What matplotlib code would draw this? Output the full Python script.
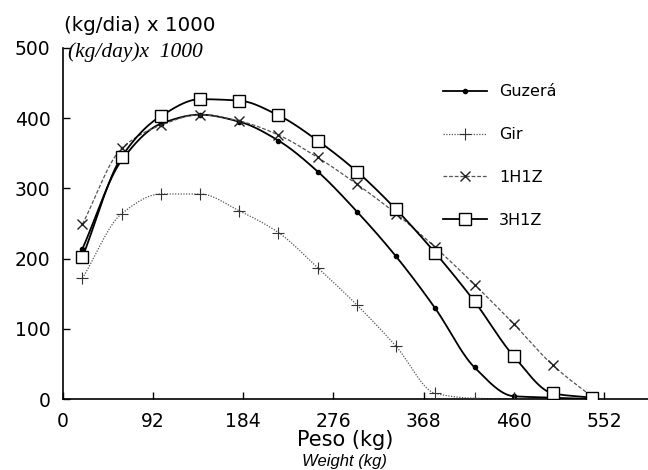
import numpy as np
import matplotlib
matplotlib.use('Agg')
import matplotlib.pyplot as plt

# weight (kg) at which the gain was recorded
peso = [20, 60, 100, 140, 180, 220, 260, 300, 340, 380, 420, 460, 500, 540]

# daily gain (kg/day) x 1000 per genetic group
guzera = [214, 340, 392, 405, 395, 368, 324, 267, 203, 129, 45, 4, 2, 0]
gir = [172, 264, 292, 292, 268, 237, 187, 134, 75, 8, 1, 0, 0, 0]
h1z1 = [249, 357, 390, 405, 396, 376, 344, 306, 264, 216, 163, 107, 48, 3]
h3z1 = [202, 345, 403, 427, 425, 404, 368, 324, 270, 208, 139, 61, 8, 2]

xticks = [0, 92, 184, 276, 368, 460, 552]
yticks = [0, 100, 200, 300, 400, 500]


def smooth(x, y, n=400):
    # monotone cubic (pchip-style) curve through the points, for drawing only
    x = np.asarray(x, float)
    y = np.asarray(y, float)
    h = np.diff(x)
    d = np.diff(y) / h
    m = np.zeros_like(y)
    for k in range(1, len(x) - 1):
        if d[k - 1] * d[k] > 0:
            w1 = 2 * h[k] + h[k - 1]
            w2 = h[k] + 2 * h[k - 1]
            m[k] = (w1 + w2) / (w1 / d[k - 1] + w2 / d[k])
    m[0] = d[0]
    m[-1] = d[-1]
    xs = np.linspace(x[0], x[-1], n)
    i = np.clip(np.searchsorted(x, xs) - 1, 0, len(x) - 2)
    t = (xs - x[i]) / h[i]
    h00 = 2 * t**3 - 3 * t**2 + 1
    h10 = t**3 - 2 * t**2 + t
    h01 = -2 * t**3 + 3 * t**2
    h11 = t**3 - t**2
    ys = h00 * y[i] + h10 * h[i] * m[i] + h01 * y[i + 1] + h11 * h[i] * m[i + 1]
    return xs, np.maximum(ys, 0)


plt.rcParams['font.family'] = ['DejaVu Sans']

fig = plt.figure(figsize=(6.48, 4.70), dpi=100)
ax = fig.add_axes([0.097, 0.151, 0.903, 0.747])

series = [
    ('Guzerá', guzera, dict(color='black', lw=1.3, ls='-'), dict(marker='o', ms=3, mfc='black', mec='black')),
    ('Gir', gir, dict(color='#555555', lw=0.9, ls=(0, (1, 1.2))), dict(marker='+', ms=9, mew=0.8, mec='#333333')),
    ('1H1Z', h1z1, dict(color='#555555', lw=0.9, ls=(0, (3, 1.5))), dict(marker='x', ms=7, mew=1.0, mec='#222222')),
    ('3H1Z', h3z1, dict(color='black', lw=1.3, ls='-'), dict(marker='s', ms=9, mfc='white', mew=1.0, mec='black')),
]

for name, vals, lstyle, mstyle in series:
    xs, ys = smooth(peso, vals)
    ax.plot(xs, ys, **lstyle)
    ax.plot(peso, vals, ls='none', zorder=3, **mstyle)
    ax.plot([], [], label=name, **lstyle, **mstyle)

ax.set_xlim(0, 597)
ax.set_ylim(0, 500)
ax.set_xticks(xticks)
ax.set_yticks(yticks)
ax.tick_params(direction='in', length=5, width=1.0, labelsize=13.5)
ax.tick_params(axis='x', pad=9)
ax.tick_params(axis='y', pad=9)
for s in ['top', 'right']:
    ax.spines[s].set_visible(False)
for s in ['left', 'bottom']:
    ax.spines[s].set_linewidth(1.2)

leg = ax.legend(loc='upper left', bbox_to_anchor=(0.639, 0.915), frameon=False,
                fontsize=11.5, handlelength=2.75, handletextpad=0.75, labelspacing=1.75,
                borderaxespad=0)

fig.text(0.532, 0.064, 'Peso (kg)', fontsize=15, ha='center', va='center')
fig.text(0.532, 0.019, 'Weight (kg)', fontsize=12, style='italic', ha='center', va='center',
         family='Liberation Sans')
fig.text(0.099, 0.946, '(kg/dia) x 1000', fontsize=14.3, ha='left', va='center')
fig.text(0.105, 0.889, '(kg/day)x  1000', fontsize=15.5, ha='left', va='center',
         family='Liberation Serif', style='italic')

fig.savefig('out.png', dpi=100)
